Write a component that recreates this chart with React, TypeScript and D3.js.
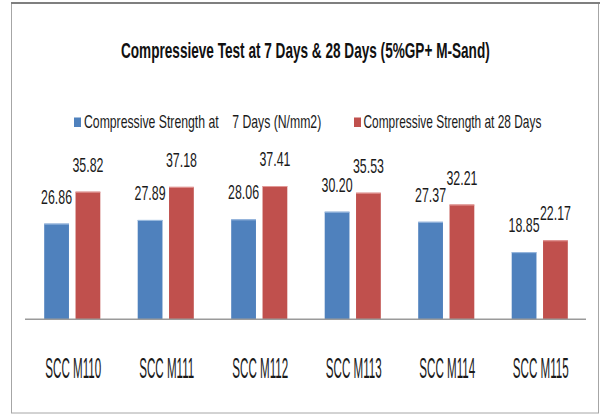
import React from 'react';
import * as d3 from 'd3';

const categories = ['SCC M110', 'SCC M111', 'SCC M112', 'SCC M113', 'SCC M114', 'SCC M115'];
const days7 = [26.86, 27.89, 28.06, 30.2, 27.37, 18.85];
const days28 = [35.82, 37.18, 37.41, 35.53, 32.21, 22.17];
const seriesNames = ['Compressive Strength at    7 Days (N/mm2)', 'Compressive Strength at 28 Days'];
const seriesColors = ['#4F81BD', '#C0504D'];
const titleText = 'Compressieve Test at 7 Days & 28 Days (5%GP+ M-Sand)';

const FONT = '"Liberation Sans", Arial, sans-serif';

// squeeze a left-anchored text horizontally so it spans `w` pixels
function fitText(t: any, x0: number, y0: number, w: number) {
    const natural = (t.node() as SVGTextElement).getComputedTextLength();
    t.attr('x', 0).attr('y', 0)
        .attr('transform', `translate(${x0},${y0}) scale(${w / natural},1)`);
}

const App = () => {
    const ref = React.useRef<HTMLDivElement>(null);
    React.useEffect(() => {
        const width = 600,
            height = 415;
        d3.select(ref.current).selectAll('*').remove();

        const svg = d3.select(ref.current)
            .append('svg')
            .attr('width', width)
            .attr('height', height)
            .style('position', 'absolute')
            .style('left', 0)
            .style('top', 0)
            .style('font-family', FONT);

        // chart frame
        svg.append('rect')
            .attr('x', 11.5).attr('y', 3.5)
            .attr('width', 587).attr('height', 409.5)
            .attr('fill', 'white')
            .attr('stroke', '#a6a6a6')
            .attr('stroke-width', 1);
        svg.append('line')
            .attr('x1', 11).attr('x2', 600)
            .attr('y1', 3).attr('y2', 3)
            .attr('stroke', '#7f7f7f')
            .attr('stroke-width', 2);

        // title
        const title = svg.append('text')
            .style('font-size', '22.5px')
            .style('font-weight', 'bold')
            .attr('fill', '#111')
            .text(titleText);
        fitText(title, 121, 58, 369);

        // legend
        const legendX = [74, 354];
        const legendTextX = [84, 363.5];
        const legendLen = [237.5, 178];
        seriesNames.forEach((name, i) => {
            svg.append('rect')
                .attr('x', legendX[i]).attr('y', 117.5)
                .attr('width', 7).attr('height', 9.5)
                .attr('fill', seriesColors[i]);
            const t = svg.append('text')
                .style('white-space', 'pre')
                .style('font-size', '18px')
                .attr('fill', '#1a1a1a')
                .text(name);
            fitText(t, legendTextX[i], 128, legendLen[i]);
        });

        const x = d3.scaleBand()
            .domain(categories)
            .range([25.5, 586.5])
            .padding(0);

        const groupW = x.bandwidth() * 0.6;
        const xs = d3.scaleBand()
            .domain(['7', '28'])
            .range([(x.bandwidth() - groupW) / 2, (x.bandwidth() + groupW) / 2])
            .paddingInner(0.21);

        const y = d3.scaleLinear()
            .domain([0, 40])
            .range([319.3, 176.8]);

        const rows = categories.map((c, i) => ({ cat: c, vals: [days7[i], days28[i]] }));

        const g = svg.selectAll('g.grp')
            .data(rows)
            .join('g')
            .attr('class', 'grp')
            .attr('transform', d => `translate(${x(d.cat)},0)`);

        ['7', '28'].forEach((k, si) => {
            g.append('rect')
                .attr('x', xs(k))
                .attr('y', d => y(d.vals[si]))
                .attr('width', xs.bandwidth())
                .attr('height', d => y(0) - y(d.vals[si]))
                .attr('fill', seriesColors[si]);
            // light top edge like the source
            g.append('line')
                .attr('x1', xs(k)).attr('x2', xs(k) + xs.bandwidth())
                .attr('y1', d => y(d.vals[si]) + 0.5)
                .attr('y2', d => y(d.vals[si]) + 0.5)
                .attr('stroke', si === 0 ? '#9dbbe0' : '#e39a98')
                .attr('stroke-width', 1);
            // value labels
            g.append('text')
                .attr('transform', d => `translate(${xs(k) + xs.bandwidth() / 2},${y(d.vals[si]) - 20}) scale(0.62,1)`)
                .attr('text-anchor', 'middle')
                .style('font-size', '20px')
                .attr('fill', '#1a1a1a')
                .text(d => d.vals[si].toFixed(2));
        });

        // axis line
        svg.append('line')
            .attr('x1', 25).attr('x2', 586)
            .attr('y1', y(0)).attr('y2', y(0))
            .attr('stroke', '#9a9a9a')
            .attr('stroke-width', 1.5);

        // category labels
        svg.selectAll('text.cat')
            .data(categories)
            .join('text')
            .attr('class', 'cat')
            .attr('transform', d => `translate(${x(d) + x.bandwidth() / 2 + 1},378.3) scale(0.4,1)`)
            .attr('text-anchor', 'middle')
            .style('font-size', '29px')
            .attr('fill', '#1a1a1a')
            .text(d => d);
    }, []);

    return <div ref={ref} />;
};

export default App;
